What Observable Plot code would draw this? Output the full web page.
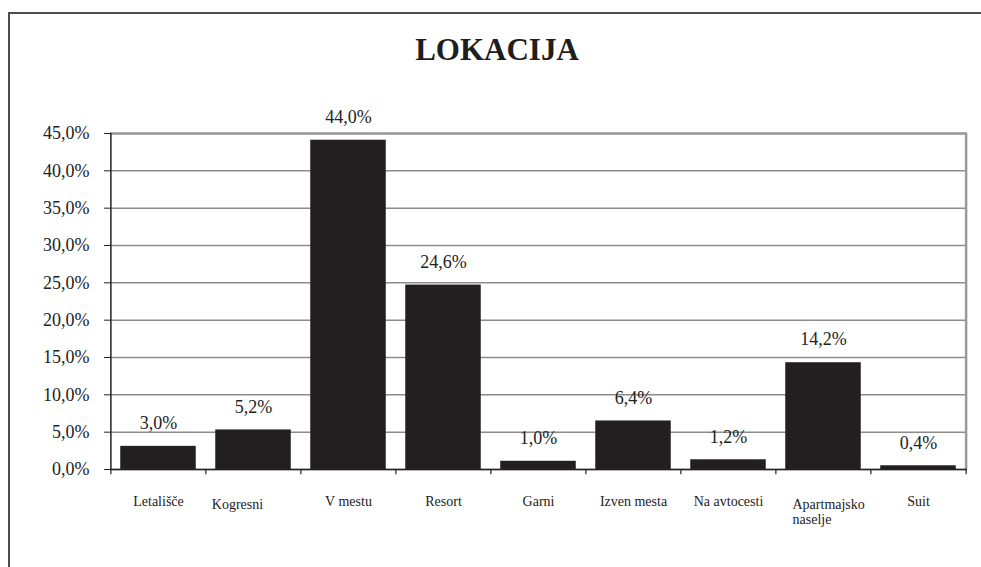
<!DOCTYPE html>
<html>
<head>
<meta charset="utf-8">
<script src="https://cdn.jsdelivr.net/npm/d3@7"></script>
<script src="https://cdn.jsdelivr.net/npm/@observablehq/plot@0.6"></script>
<style>
  html, body { margin: 0; padding: 0; background: #fff; overflow: hidden; width: 981px; height: 567px; }
  #wrap { position: relative; width: 981px; height: 567px; overflow: hidden; }
  .bl { position: absolute; background: #4d4d4d; }
  #title { position: absolute; left: 13px; top: 34px; width: 968px; text-align: center;
           font: bold 31px/31px "Liberation Serif", "Times New Roman", serif; color: #1e1e1e; }
  #chart { position: absolute; left: 0; top: 0; width: 981px; height: 567px; }
  #chart svg { display: block; }
  #chart svg, #chart svg text, #chart svg g { font-family: "Liberation Serif", "Times New Roman", serif !important; }
</style>
</head>
<body>
<div id="wrap">
  <div class="bl" style="left:8px;top:12px;width:973px;height:2px"></div>
  <div class="bl" style="left:8px;top:12px;width:2px;height:555px"></div>
  <div id="chart"></div>
  <div id="title">LOKACIJA</div>
</div>
<script>
const categories = ["Letališče", "Kogresni", "V mestu", "Resort", "Garni", "Izven mesta", "Na avtocesti", "Apartmajsko\nnaselje", "Suit"];
const values = [3.0, 5.2, 44.0, 24.6, 1.0, 6.4, 1.2, 14.2, 0.4];
const yTicks = [0, 5, 10, 15, 20, 25, 30, 35, 40, 45];

const data = categories.map((c, i) => ({c, v: values[i]}));
const fmt = v => v.toFixed(1).replace(".", ",") + "%";

const W = 981, H = 567, mL = 110, mR = 14, mT = 133, mB = 98;
const step = (W - mL - mR) / categories.length;
const ink = "#222";
const font = "Liberation Serif";

const normal = data.filter(d => d.c !== "Kogresni" && d.c !== "Apartmajsko\nnaselje");
const kog = data.filter(d => d.c === "Kogresni");
const apt = data.filter(d => d.c === "Apartmajsko\nnaselje");

const chart = Plot.plot({
  width: W, height: H,
  marginLeft: mL, marginRight: mR, marginTop: mT, marginBottom: mB,
  style: {fontFamily: font, fontSize: "18px", color: ink, background: "transparent"},
  x: {domain: categories, paddingInner: 0.22, paddingOuter: 0.11, axis: null},
  y: {domain: [0, 45], axis: null},
  marks: [
    Plot.ruleY(yTicks, {stroke: "#8c8c8c", strokeWidth: 1.5}),
    Plot.ruleY([45], {stroke: "#9a9a9a", strokeWidth: 2.5}),
    Plot.ruleX([categories[categories.length - 1]], {dx: step / 2, y1: 0, y2: 45, stroke: "#9a9a9a", strokeWidth: 2.5}),
    Plot.barY(data, {x: "c", y: "v", fill: "#231f20", stroke: "#231f20", strokeWidth: 1.5}),
    Plot.ruleY([0], {stroke: ink, strokeWidth: 1.5}),
    Plot.ruleX([categories[0]], {dx: -step / 2, y1: 0, y2: 45, stroke: ink, strokeWidth: 1.5}),
    Plot.ruleX(categories, {x: d => d, dx: -step / 2, y1: 0, y2: -0.7, stroke: ink, strokeWidth: 1.2}),
    Plot.ruleX([categories[categories.length - 1]], {dx: step / 2, y1: 0, y2: -0.7, stroke: ink, strokeWidth: 1.2}),
    Plot.axisY({ticks: yTicks, tickSize: 6, tickPadding: 15, tickFormat: fmt, fontSize: 18, label: null, stroke: ink, fontFamily: font}),
    Plot.text(data, {x: "c", y: "v", text: d => fmt(d.v), dy: -18, lineAnchor: "bottom", fontSize: 18, fill: ink, fontFamily: font}),
    Plot.text(normal, {x: "c", text: "c", frameAnchor: "bottom", dy: 36, lineAnchor: "bottom", fontSize: 14, fill: ink, fontFamily: font}),
    Plot.text(kog, {x: "c", text: "c", frameAnchor: "bottom", dx: -16, dy: 39, lineAnchor: "bottom", fontSize: 14, fill: ink, fontFamily: font}),
    Plot.text(apt, {x: "c", text: "c", frameAnchor: "bottom", dx: -31, dy: 54, lineAnchor: "bottom", textAnchor: "start", lineHeight: 1.07, fontSize: 14, fill: ink, fontFamily: font})
  ]
});
document.getElementById("chart").appendChild(chart);
</script>
</body>
</html>
